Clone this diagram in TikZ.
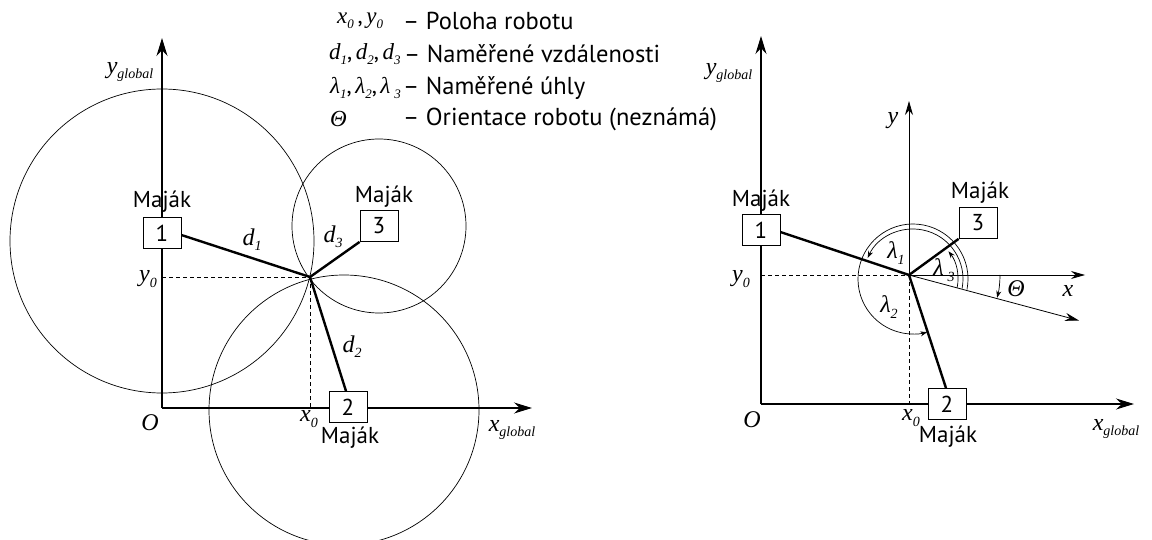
\documentclass[tikz,border=0pt]{standalone}
\usepackage{fontspec}
\setmainfont{PT Sans}
\newfontfamily\serifit{Liberation Serif}
\usetikzlibrary{arrows.meta,calc}
\newcommand{\mi}[1]{{\serifit\itshape #1}}
\newcommand{\sbs}[1]{\raisebox{-0.22em}{\fontsize{14}{14}\selectfont #1}}
\newcommand{\lsb}[1]{\raisebox{-0.22em}{\fontsize{13}{13}\selectfont #1}}
\newcommand{\gap}{\hspace{3.5pt}}
\tikzset{
  axis/.style={line width=1.3pt,-{Stealth[length=18pt,width=11pt]}},
  thin axis/.style={line width=0.8pt,-{Stealth[length=14pt,width=8pt]}},
  beacon/.style={draw,line width=0.8pt,minimum width=38pt,minimum height=31pt,inner sep=0pt,fill=white,font=\fontsize{23}{24}\selectfont},
  lbl/.style={font=\fontsize{23}{24}\selectfont,inner sep=0pt},
  leg/.style={font=\fontsize{24.5}{26}\selectfont,inner sep=0pt,anchor=west},
  legm/.style={font=\fontsize{23}{26}\selectfont,inner sep=0pt,anchor=west},
  mlbl/.style={font=\fontsize{24}{26}\selectfont,inner sep=0pt},
  dist/.style={line width=2.4pt},
  guide/.style={line width=0.7pt,dash pattern=on 4pt off 3pt},
  circ/.style={line width=0.7pt},
  angarc/.style={line width=0.7pt,-{Stealth[length=7pt,width=5pt]}},
}
\begin{document}
\begin{tikzpicture}[x=1pt,y=-1pt]
\useasboundingbox (0,0) rectangle (1152,540);
\begin{scope}
\clip (0,0) rectangle (1152,540);
% ---------- legend ----------
\node[legm] (l1m) at (337,21) {\mi{x}\lsb{\mi{0}}\,,\gap\mi{y}\lsb{\mi{0}}};
\node[leg] (l1t) at (403,21) {– Poloha robotu};
\node[legm] (l2m) at (329,54) {\mi{d}\lsb{\mi{1}},\gap\mi{d}\lsb{\mi{2}},\gap\mi{d}\lsb{\mi{3}}};
\node[leg] (l2t) at (404,54) {– Naměřené vzdálenosti};
\node[legm] (l3m) at (330,88) {\mi{λ}\lsb{\mi{1}},\gap\mi{λ}\lsb{\mi{2}},\gap\mi{λ}\,\lsb{\mi{3}}};
\node[leg] (l3t) at (403,88) {– Naměřené úhly};
\node[legm] (l4m) at (330,119) {\mi{Θ}};
\node[leg] (l4t) at (403,119) {– Orientace robotu (neznámá)};

% ---------- left diagram ----------
\coordinate (O1) at (162,408);
\coordinate (Y1) at (162,38);
\coordinate (X1) at (532,408);
\coordinate (P1) at (310,277);
\coordinate (C1) at (162,241);
\coordinate (C2) at (344,410);
\coordinate (C3) at (379,226);
\draw[circ] (C1) circle[radius=152];
\draw[circ] (C2) circle[radius=135];
\draw[circ] (C3) circle[radius=87];
\draw[axis] (O1) -- (Y1);
\draw[axis] (O1) -- (X1);
\node[mlbl] (ygl1) at (130,72) {\mi{y}\sbs{\mi{global}}};
\node[mlbl] (xgl1) at (512,430) {\mi{x}\sbs{\mi{global}}};
\node[mlbl] (o1) at (150,423) {\mi{O}};
\draw[guide] (O1 |- P1) -- (P1);
\draw[guide] (P1) -- (P1 |- O1);
\node[mlbl] (y01) at (148,279) {\mi{y}\sbs{\mi{0}}};
\node[mlbl] (x01) at (309,419) {\mi{x}\sbs{\mi{0}}};
\node[beacon] (b11) at (162,233) {1};
\node[beacon] (b21) at (348,407) {2};
\node[beacon] (b31) at (379,226) {3};
\node[lbl] (m11) at (162,202) {Maják};
\node[lbl] (m21) at (350,438) {Maják};
\node[lbl] (m31) at (384,197) {Maják};
\draw[dist] ($(b11.east)+(0,2)$) -- (P1);
\draw[dist] (P1) -- ($(b21.north)+(-2,0)$);
\draw[dist] (P1) -- (b31.south west);
\node[mlbl] (d1) at (252,240) {\mi{d}\sbs{\mi{1}}};
\node[mlbl] (d2) at (352,347) {\mi{d}\sbs{\mi{2}}};
\node[mlbl] (d3) at (333,237) {\mi{d}\sbs{\mi{3}}};

% ---------- right diagram ----------
\coordinate (O2) at (761,404);
\coordinate (Y2) at (761,36);
\coordinate (X2) at (1134,404);
\coordinate (P2) at (909,275);
\coordinate (AC) at (913,279);
\draw[axis] (O2) -- (Y2);
\draw[axis] (O2) -- (X2);
\node[mlbl] (ygl2) at (729,73) {\mi{y}\sbs{\mi{global}}};
\node[mlbl] (xgl2) at (1116,429) {\mi{x}\sbs{\mi{global}}};
\node[mlbl] (o2) at (752,420) {\mi{O}};
\draw[guide] (O2 |- P2) -- (P2);
\draw[guide] (P2) -- (P2 |- O2);
\node[mlbl] (y02) at (741,279) {\mi{y}\sbs{\mi{0}}};
\node[mlbl] (x02) at (911,418) {\mi{x}\sbs{\mi{0}}};
% local axes
\coordinate (yl) at (909,101);
\coordinate (xl) at (1085,275);
\coordinate (xr) at ($(P2)+(15:176)$);
\draw[thin axis] (P2) -- (yl);
\draw[thin axis] (P2) -- (xl);
\draw[thin axis] (P2) -- (xr);
\node[mlbl] (ylab) at (893,121) {\mi{y}};
\node[mlbl] (xlab) at (1068,291) {\mi{x}};
% angle arcs (y axis points down, so angles are mirrored)
\draw[angarc] ($(AC)+(11:45)$) arc[start angle=11,end angle=-38,radius=45];
\draw[angarc] ($(AC)+(11:50)$) arc[start angle=11,end angle=-155,radius=50];
\draw[angarc] ($(AC)+(11:55)$) arc[start angle=11,end angle=-285,radius=55];
\draw[angarc] ($(P2)+(0:91)$) arc[start angle=0,end angle=14.5,radius=91];
\node[mlbl] (lam1) at (896,253) {\mi{λ}\sbs{\mi{1}}};
\node[mlbl] (lam2) at (889,307) {\mi{λ}\sbs{\mi{2}}};
\node[mlbl] (lam3) at (944,270) {\mi{λ}\,\sbs{\mi{3}}};
\node[mlbl] (th) at (1016,289) {\mi{Θ}};
\node[beacon] (b12) at (761,230) {1};
\node[beacon] (b22) at (947,404) {2};
\node[beacon] (b32) at (978,223) {3};
\node[lbl] (m12) at (761,201) {Maják};
\node[lbl] (m22) at (948,437) {Maják};
\node[lbl] (m32) at (980,193) {Maják};
\draw[dist] ($(b12.east)+(0,2)$) -- (P2);
\draw[dist] (P2) -- ($(b22.north)+(-1,0)$);
\draw[dist] (P2) -- (b32.south west);
\end{scope}
\end{tikzpicture}
\end{document}
